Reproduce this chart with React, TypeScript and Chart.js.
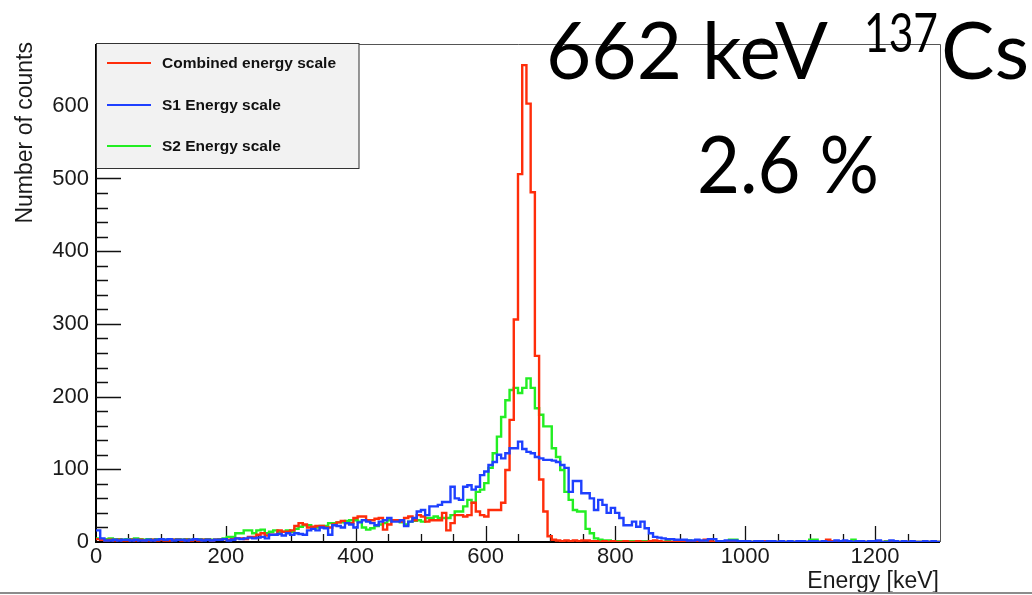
import React, { useEffect, useRef } from 'react';
import { Chart, registerables } from 'chart.js';

Chart.register(...registerables);

// Histogram binning (keV)
const BIN_WIDTH = 6.5;
const X_MIN = 0;
const X_MAX = 1300;
const Y_MIN = 0;
const Y_MAX = 685;
const X_TICK_STEP = 200;
const X_MINOR_STEP = 50;
const Y_TICK_STEP = 100;
const Y_MINOR_STEP = 20;

const seriesLabels = ['Combined energy scale', 'S1 Energy scale', 'S2 Energy scale'];
const seriesColors = ['#ff2d0a', '#1e40ff', '#22ee22'];

// Counts per bin (200 bins of 6.5 keV from 0 to 1300 keV)
const combinedCounts: number[] = [
  4, 3, 2, 3, 2, 3, 2, 2, 3, 2,
  3, 2, 2, 3, 2, 3, 2, 2, 3, 3,
  2, 3, 2, 3, 2, 3, 3, 2, 3, 3,
  4, 3, 4, 5, 5, 4, 7, 7, 10, 12,
  9, 10, 10, 16, 14, 14, 16, 22, 26, 24,
  20, 21, 22, 22, 20, 20, 24, 27, 29, 26,
  26, 33, 35, 35, 30, 30, 32, 33, 17, 24,
  30, 30, 28, 33, 35, 30, 37, 35, 28, 30,
  30, 30, 40, 16, 26, 37, 37, 35, 37, 54,
  42, 37, 35, 44, 44, 44, 54, 99, 168, 306,
  506, 656, 603, 481, 256, 86, 42, 8, 3, 2,
  1, 2, 1, 2, 1, 2, 2, 1, 1, 0,
  1, 0, 1, 0, 0, 1, 0, 0, 1, 0,
  0, 1, 2, 1, 0, 0, 0, 1, 0, 0,
  0, 0, 1, 0, 3, 1, 0, 0, 0, 0,
  1, 0, 0, 0, 0, 0, 0, 0, 1, 0,
  0, 0, 0, 0, 0, 0, 0, 0, 0, 0,
  0, 0, 0, 3, 1, 0, 0, 0, 0, 0,
  0, 0, 0, 0, 1, 0, 0, 0, 0, 0,
  0, 0, 0, 0, 0, 0, 0, 0, 0, 0,
];

const s1Counts: number[] = [
  16, 5, 2, 2, 3, 2, 3, 3, 2, 3,
  2, 2, 3, 2, 3, 4, 3, 4, 2, 3,
  3, 2, 3, 4, 3, 2, 3, 2, 3, 3,
  4, 2, 3, 5, 4, 5, 6, 5, 6, 7,
  5, 10, 10, 11, 9, 12, 10, 12, 11, 10,
  16, 18, 16, 20, 19, 10, 23, 22, 20, 26,
  24, 20, 27, 30, 28, 26, 23, 28, 30, 33,
  28, 28, 30, 22, 28, 33, 42, 44, 37, 49,
  49, 51, 55, 55, 76, 60, 58, 76, 78, 72,
  76, 92, 97, 106, 110, 120, 115, 122, 129, 129,
  138, 128, 124, 122, 117, 115, 113, 113, 112, 110,
  106, 102, 69, 84, 84, 67, 67, 60, 44, 58,
  51, 40, 47, 40, 33, 23, 23, 28, 21, 28,
  19, 12, 7, 6, 5, 4, 4, 3, 3, 3,
  2, 2, 3, 2, 2, 4, 4, 1, 1, 2,
  2, 2, 1, 1, 1, 0, 1, 1, 0, 1,
  1, 0, 1, 0, 1, 0, 1, 1, 0, 1,
  1, 0, 1, 0, 0, 2, 1, 2, 1, 0,
  1, 1, 0, 1, 1, 2, 0, 0, 2, 1,
  0, 1, 0, 1, 0, 0, 1, 0, 1, 0,
];

const s2Counts: number[] = [
  5, 4, 4, 5, 4, 4, 3, 4, 4, 5,
  4, 3, 4, 3, 4, 4, 3, 4, 3, 4,
  3, 4, 3, 3, 4, 3, 4, 3, 3, 4,
  5, 7, 7, 12, 12, 16, 16, 12, 16, 17,
  12, 14, 16, 14, 14, 16, 14, 18, 21, 23,
  23, 20, 20, 22, 22, 26, 26, 27, 27, 29,
  30, 30, 28, 20, 17, 19, 22, 24, 26, 30,
  30, 29, 27, 24, 28, 29, 30, 28, 33, 33,
  35, 33, 33, 33, 37, 42, 42, 49, 58, 54,
  69, 72, 81, 102, 122, 145, 172, 195, 209, 212,
  205, 212, 225, 212, 184, 175, 159, 159, 129, 117,
  99, 69, 58, 44, 42, 42, 18, 12, 5, 3,
  2, 2, 1, 1, 1, 0, 1, 1, 0, 1,
  1, 0, 1, 0, 0, 1, 0, 0, 0, 1,
  2, 1, 0, 0, 1, 0, 0, 0, 0, 1,
  3, 3, 0, 0, 1, 0, 0, 0, 0, 0,
  0, 0, 0, 0, 1, 0, 0, 0, 0, 3,
  3, 0, 0, 0, 0, 1, 0, 0, 0, 3,
  1, 0, 0, 0, 0, 0, 0, 1, 0, 0,
  0, 0, 0, 0, 0, 0, 0, 0, 0, 0,
];

const xAxisTitle = 'Energy [keV]';
const yAxisTitle = 'Number of counts';
const annotationMain = '662 keV';
const annotationSup = '137';
const annotationElem = 'Cs';
const annotationRes = '2.6 %';

const toHistPoints = (counts: number[]) => {
  const pts = counts.map((v, i) => ({ x: X_MIN + i * BIN_WIDTH, y: v }));
  pts.push({ x: X_MIN + counts.length * BIN_WIDTH, y: counts[counts.length - 1] });
  return pts;
};

const SANS = "'Liberation Sans', Arial, Helvetica, sans-serif";
const BIG = "Lato, 'Open Sans', sans-serif";

const rootStylePlugin = {
  id: 'rootStyle',
  beforeDatasetsDraw(chart: any) {
    const { ctx, chartArea: a, scales } = chart;
    const x = scales.x;
    const y = scales.y;
    ctx.save();
    // frame (top / right)
    ctx.strokeStyle = '#555';
    ctx.lineWidth = 1;
    ctx.beginPath();
    ctx.moveTo(a.left, a.top + 0.5);
    ctx.lineTo(a.right + 0.5, a.top + 0.5);
    ctx.lineTo(a.right + 0.5, a.bottom);
    ctx.stroke();
    // axes
    ctx.strokeStyle = '#000';
    ctx.lineWidth = 2;
    ctx.beginPath();
    ctx.moveTo(a.left, a.top);
    ctx.lineTo(a.left, a.bottom);
    ctx.lineTo(a.right, a.bottom);
    ctx.stroke();
    // y ticks (inside)
    ctx.lineWidth = 1.3;
    ctx.strokeStyle = '#111';
    ctx.beginPath();
    for (let v = Y_MIN + Y_MINOR_STEP; v <= Y_MAX; v += Y_MINOR_STEP) {
      const py = Math.round(y.getPixelForValue(v)) + 0.5;
      const len = v % Y_TICK_STEP === 0 ? 25 : 12;
      ctx.moveTo(a.left, py);
      ctx.lineTo(a.left + len, py);
    }
    // x ticks (inside)
    for (let v = X_MIN + X_MINOR_STEP; v < X_MAX; v += X_MINOR_STEP) {
      const px = Math.round(x.getPixelForValue(v)) + 0.5;
      const len = v % X_TICK_STEP === 0 ? 16 : 8;
      ctx.moveTo(px, a.bottom);
      ctx.lineTo(px, a.bottom - len);
    }
    ctx.stroke();
    ctx.restore();
  },
  afterDraw(chart: any) {
    const { ctx, chartArea: a, width } = chart;
    ctx.save();
    // axis titles
    ctx.fillStyle = '#1a1a1a';
    ctx.font = `23px ${SANS}`;
    ctx.textAlign = 'right';
    ctx.textBaseline = 'alphabetic';
    ctx.fillText(xAxisTitle, a.right - 1, 588);
    ctx.save();
    ctx.translate(32, a.top - 2);
    ctx.rotate(-Math.PI / 2);
    ctx.fillText(yAxisTitle, 0, 0);
    ctx.restore();

    // legend box
    const lx = 96.5, ly = 43.5, lw = 262.5, lh = 125;
    ctx.fillStyle = '#f2f2f2';
    ctx.fillRect(lx, ly, lw, lh);
    ctx.strokeStyle = '#333';
    ctx.lineWidth = 1;
    ctx.strokeRect(lx, ly, lw, lh);
    const rows = [63, 105, 146];
    chart.data.datasets.forEach((ds: any, i: number) => {
      const ry = rows[i];
      ctx.strokeStyle = ds.borderColor;
      ctx.lineWidth = 2;
      ctx.beginPath();
      ctx.moveTo(107, ry);
      ctx.lineTo(151, ry);
      ctx.stroke();
      ctx.fillStyle = '#111';
      ctx.font = `bold 15.5px ${SANS}`;
      ctx.textAlign = 'left';
      ctx.textBaseline = 'middle';
      ctx.fillText(ds.label, 162, ry + 0.5);
    });

    // big annotations
    ctx.fillStyle = '#000';
    ctx.textAlign = 'left';
    ctx.textBaseline = 'alphabetic';
    ctx.font = `80px ${BIG}`;
    ctx.fillText(annotationMain, 546, 79, 282);
    ctx.fillText(annotationElem, 941, 79);
    ctx.fillText(annotationRes, 697, 193, 182);
    ctx.font = `54px ${BIG}`;
    ctx.fillText(annotationSup, 864, 52, 74);

    // slide bottom rule
    ctx.fillStyle = '#8c8c8c';
    ctx.fillRect(0, 592, width, 2);
    ctx.restore();
  },
};

export default function App() {
  const canvasRef = useRef<HTMLCanvasElement | null>(null);

  useEffect(() => {
    if (!canvasRef.current) return;
    const allSeries = [combinedCounts, s1Counts, s2Counts];
    const orders = [1, 0, 2];
    const chart = new Chart(canvasRef.current, {
      type: 'line',
      data: {
        datasets: allSeries.map((counts, i) => ({
          label: seriesLabels[i],
          data: toHistPoints(counts),
          borderColor: seriesColors[i],
          backgroundColor: seriesColors[i],
          borderWidth: 2.4,
          pointRadius: 0,
          stepped: 'before' as const,
          fill: false,
          order: orders[i],
        })),
      },
      options: {
        animation: false,
        responsive: false,
        devicePixelRatio: 1,
        parsing: false as any,
        layout: { padding: { top: 44, right: 92, left: 0, bottom: 0 } },
        plugins: {
          legend: { display: false },
          tooltip: { enabled: false },
          title: { display: false },
        },
        scales: {
          x: {
            type: 'linear',
            min: X_MIN,
            max: X_MAX,
            grid: { display: false, drawTicks: false },
            border: { display: false },
            afterFit: (s: any) => { s.height = 53; },
            ticks: {
              stepSize: X_TICK_STEP,
              includeBounds: false,
              autoSkip: false,
              maxRotation: 0,
              padding: 2,
              color: '#1a1a1a',
              font: { family: SANS, size: 22 },
              callback: (v: any) => String(v),
            },
          },
          y: {
            type: 'linear',
            min: Y_MIN,
            max: Y_MAX,
            grid: { display: false, drawTicks: false },
            border: { display: false },
            afterFit: (s: any) => { s.width = 96; },
            ticks: {
              stepSize: Y_TICK_STEP,
              includeBounds: false,
              autoSkip: false,
              padding: 7,
              color: '#1a1a1a',
              font: { family: SANS, size: 22 },
              callback: (v: any) => String(v),
            },
          },
        },
      },
      plugins: [rootStylePlugin],
    } as any);
    return () => chart.destroy();
  }, []);

  return (
    <div style={{ position: 'fixed', left: 0, top: 0, width: 1032, height: 595, background: '#fff' }}>
      <canvas ref={canvasRef} width={1032} height={595} style={{ display: 'block' }} />
    </div>
  );
}
